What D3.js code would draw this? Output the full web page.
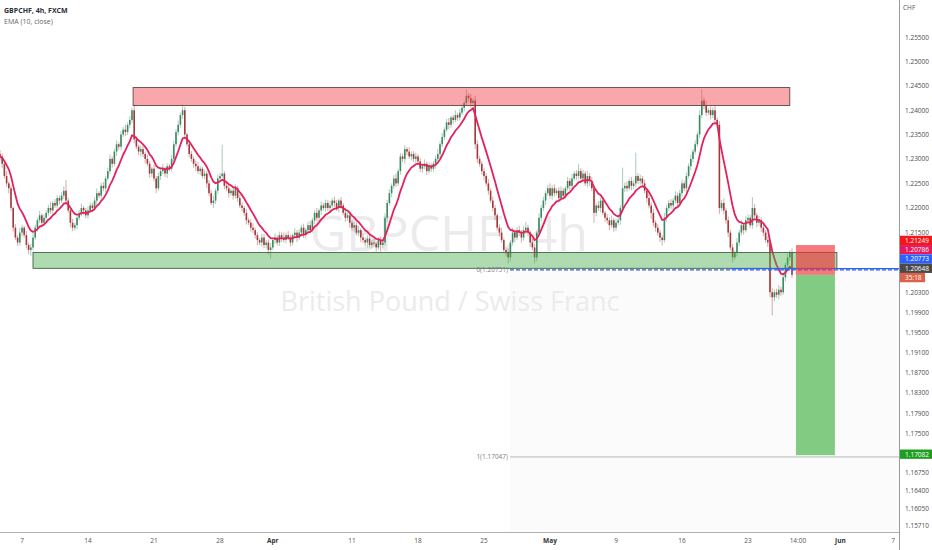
<!DOCTYPE html>
<html><head><meta charset="utf-8">
<script src="https://cdn.jsdelivr.net/npm/d3@7"></script>
<style>
html,body{margin:0;padding:0;background:#fff;}
svg{display:block;font-family:"Open Sans",sans-serif;}
</style></head><body>
<svg id="c" width="932" height="550"></svg>
<script>
// ---------------- DATA ----------------
const symbolTitle = "GBPCHF, 4h, FXCM";
const indicatorTitle = "EMA (10, close)";
const watermarkMain = "GBPCHF, 4h";
const watermarkSub = "British Pound / Swiss Franc";
const currencyLabel = "CHF";
const basePrice = 1.2;      // bar values below are pips above this price
const firstOpen = 310;
const closes = [
305,290,265,250,240,200,160,140,130,150,
160,145,125,115,120,140,160,175,185,170,
180,190,200,195,210,205,220,215,225,235,
215,195,170,160,165,180,190,200,195,185,
195,205,200,215,230,225,245,240,260,275,
300,290,315,330,325,350,360,355,370,380,
400,340,325,315,320,310,300,290,270,280,
260,240,265,275,280,270,285,280,300,330,
355,370,390,400,350,330,310,300,290,285,
275,280,265,270,250,230,210,215,235,260,
265,270,245,240,230,235,225,240,220,205,
200,190,175,170,160,155,145,135,130,140,
125,130,115,120,135,140,130,145,140,135,
145,140,130,145,150,140,150,160,145,155,
165,155,175,190,180,195,205,200,210,200,
205,215,210,200,215,205,190,180,185,170,
160,165,150,155,140,135,130,138,125,130,
128,120,135,125,130,180,210,230,245,260,
250,275,305,300,320,315,305,310,300,305,
295,280,285,290,275,285,280,290,300,310,
330,345,360,375,370,385,380,390,385,395,
405,415,430,425,415,420,330,300,290,275,
265,250,235,215,200,185,160,150,135,115,
110,100,130,150,140,155,150,140,155,160,
150,130,120,100,150,180,200,215,230,240,
225,240,230,235,220,235,225,240,255,245,
260,270,265,275,260,270,250,265,255,240,
190,205,200,215,190,180,175,165,175,160,
170,175,200,240,245,240,255,245,250,265,
255,260,250,235,220,205,190,170,160,150,
140,135,180,200,210,205,215,225,210,230,
250,240,265,285,300,315,330,350,390,420,
410,395,400,390,400,380,370,200,210,195,
175,150,120,100,110,130,150,165,155,175,
180,165,200,185,170,175,160,150,135,130,
30,20,30,25,35,30,60,85,100,110,
65];
const wickUp = [
8,6,5,10,4,6,3,7,5,9, 6,4,8,5,7,10,6,5,9,4, 7,5,6,12,4,8,6,5,7,9, 22,6,4,8,5,7,6,9,4,5,
8,6,5,7,10,4,6,8,5,7, 9,5,6,8,4,7,6,10,5,8, 5,12,6,4,8,7,5,9,6,4, 8,5,7,6,10,4,6,5,8,7,
6,9,5,12,7,4,8,6,5,7, 9,6,4,8,5,7,6,10,5,8, 6,59,5,7,9,4,6,8,5,7, 6,4,8,5,7,9,5,6,4,8,
7,5,6,9,4,8,5,7,6,10, 5,8,6,4,9,5,7,6,8,4, 7,9,5,6,10,4,8,5,7,6, 9,5,8,6,4,7,5,10,6,8,
5,7,6,9,4,8,5,6,7,5, 8,4,6,7,5,9,6,8,5,7, 10,5,7,6,8,4,9,5,6,8, 5,7,6,9,4,8,6,5,7,10,
6,8,5,7,9,4,6,10,5,8, 7,5,13,6,9,5,10,8,6,5, 7,6,9,5,8,6,4,7,10,5, 6,8,5,10,7,6,9,5,8,12,
6,5,8,7,4,9,6,8,5,7, 10,6,8,5,7,9,6,4,8,6, 9,5,7,14,6,8,5,10,6,8, 7,5,9,6,8,4,7,6,10,5,
8,6,5,42,7,9,5,8,6,48, 6,8,5,7,4,9,6,8,5,7, 6,5,10,7,6,8,5,9,6,7, 8,5,7,6,9,5,8,6,10,23,
7,9,5,8,6,10,5,8,6,9, 5,8,6,7,4,9,6,10,5,8, 7,6,22,8,5,9,6,7,5,8, 6,8,5,7,9,6,8,5,7,4,
8];
const wickDn = [
6,9,5,7,10,6,8,5,7,6, 8,5,7,9,12,6,5,8,6,7, 5,8,6,7,9,5,6,8,5,7, 6,5,9,7,6,8,5,7,9,6,
7,5,8,6,9,5,7,6,8,5, 6,8,5,9,6,7,5,8,6,7, 6,8,5,7,10,6,9,5,8,7, 6,10,5,8,6,7,9,5,6,8,
5,7,6,8,9,5,7,6,8,10, 6,8,5,7,9,6,5,10,7,6, 8,5,7,6,9,5,8,6,7,5, 7,6,9,5,8,6,7,10,5,8,
6,7,9,17,5,8,6,7,9,5, 7,5,8,6,7,9,5,8,6,7, 9,6,5,8,7,6,9,5,8,6, 7,5,8,6,9,7,5,8,6,10,
6,8,5,7,9,6,8,10,5,7, 6,8,5,13,7,6,9,5,8,6, 7,5,8,6,10,7,5,8,6,9, 5,7,9,6,8,5,7,6,10,5,
8,6,7,5,9,6,8,5,7,6, 5,8,6,7,9,5,10,8,6,7, 9,6,8,5,7,10,6,8,5,7, 6,12,8,6,9,5,7,10,6,8,
7,9,6,12,8,5,7,6,9,5, 6,8,7,5,9,6,8,7,5,10, 7,5,8,6,9,7,5,8,10,6, 20,7,6,9,5,8,7,10,6,8,
7,5,9,6,8,7,5,9,6,8, 6,8,7,5,9,6,12,7,8,6, 9,11,5,8,6,7,10,6,8,5, 7,6,9,5,8,7,6,5,7,6,
8,7,5,9,6,8,7,12,6,8, 7,9,6,10,5,8,7,6,9,5, 8,6,7,5,9,6,8,7,5,9, 10,36,8,6,9,7,5,8,6,7,
6];
const priceTicks = [1.255,1.25,1.245,1.24,1.235,1.23,1.225,1.22,1.215,1.203,1.199,1.195,1.191,1.187,1.183,1.179,1.175,1.1675,1.164,1.1605,1.1571];
const priceTickLabels = ["1.25500","1.25000","1.24500","1.24000","1.23500","1.23000","1.22500","1.22000","1.21500","1.20300","1.19900","1.19500","1.19100","1.18700","1.18300","1.17900","1.17500","1.16750","1.16400","1.16050","1.15710"];
const dateTickBars = [10,40,70,100,124,160,190,220,250,280,310,340,362.7,382,406];
const dateTickLabels = ["7","14","21","28","Apr","11","18","25","May","9","16","23","14:00","Jun","7"];
const monthLabels = ["Apr","May","Jun"];
const resistanceZone = {lo:1.24098, hi:1.24469, from:60.5, to:359};
const supportZone = {lo:1.2078, hi:1.2110, from:15, to:380.4};
const position = {stop:1.21249, entry:1.20648, target:1.17082, from:361.8, to:379.5};
const fibLevels = [0, 1];
const fibPrices = [1.20751, 1.17047];
const fibFrom = 231.8;
const hLinePrice = 1.20773, hLineFrom = 332;
const axisLabelValues = [1.21249, 1.20786, 1.20773, 1.20648];
const axisLabelTexts = ["1.21249","1.20786","1.20773","1.20648"];
const countdownText = "35:18";
const targetLabel = {value:1.17082, text:"1.17082"};

// ---------------- LAYOUT ----------------
const W = 932, H = 550, plotR = 899, plotB = 532;
const svg = d3.select("#c");
const x = d3.scaleLinear().domain([10, 340]).range([22, 748]);
const y = d3.scaleLog().domain([1.1571, 1.255]).range([526, 38]);
const P = v => basePrice + v / 10000;

const bars = closes.map((c, i) => {
  const o = i ? closes[i - 1] : firstOpen;
  return {i, o: P(o), c: P(c), h: P(Math.max(o, c) + wickUp[i]), l: P(Math.min(o, c) - wickDn[i])};
});
// EMA(10, close)
const k = 2 / 11; let e = bars[0].c;
const ema = bars.map((b, i) => (e = i ? b.c * k + e * (1 - k) : b.c));

svg.append("rect").attr("width", W).attr("height", H).attr("fill", "#fff");
svg.append("defs").append("clipPath").attr("id", "plot").append("rect")
  .attr("x", 0).attr("y", 0).attr("width", plotR).attr("height", plotB);
const g = svg.append("g").attr("clip-path", "url(#plot)");

// fib background
g.append("rect").attr("x", x(fibFrom)).attr("y", y(fibPrices[0]))
  .attr("width", plotR - x(fibFrom)).attr("height", plotB - y(fibPrices[0])).attr("fill", "#fbfbfc");

// watermark
g.append("text").attr("x", 449).attr("y", 251).attr("text-anchor", "middle")
  .attr("font-size", 50).attr("fill", "#ebebed").text(watermarkMain);
g.append("text").attr("x", 450).attr("y", 311).attr("text-anchor", "middle")
  .attr("font-size", 27).attr("fill", "#ebebed").text(watermarkSub);

// candles
const up = "#3a8a62", dn = "#a33a3a";
g.append("g").selectAll("line").data(bars).join("line")
  .attr("x1", d => x(d.i)).attr("x2", d => x(d.i))
  .attr("y1", d => y(d.h)).attr("y2", d => y(d.l))
  .attr("stroke", d => d.c >= d.o ? up : dn).attr("stroke-opacity", 0.55).attr("stroke-width", 0.8);
g.append("g").selectAll("rect").data(bars).join("rect")
  .attr("x", d => x(d.i) - 0.8).attr("width", 1.6)
  .attr("y", d => y(Math.max(d.o, d.c)))
  .attr("height", d => Math.max(0.8, Math.abs(y(d.o) - y(d.c))))
  .attr("fill", d => d.c >= d.o ? up : dn);

// EMA
g.append("path").datum(ema)
  .attr("d", d3.line().x((d, i) => x(i)).y(d => y(d)))
  .attr("fill", "none").attr("stroke", "#e3215f").attr("stroke-width", 1.8);

// zones
function zone(z, fill, stroke) {
  g.append("rect").attr("x", x(z.from)).attr("y", y(z.hi))
    .attr("width", x(z.to) - x(z.from)).attr("height", y(z.lo) - y(z.hi))
    .attr("fill", fill).attr("stroke", stroke).attr("stroke-width", 0.9);
}
zone(resistanceZone, "rgba(242,60,72,0.45)", "#5a4a44");
zone(supportZone, "rgba(76,175,80,0.45)", "#46604a");

// fib lines
fibPrices.forEach((p, j) => {
  g.append("line").attr("x1", x(fibFrom)).attr("x2", plotR).attr("y1", y(p)).attr("y2", y(p))
    .attr("stroke", j === 0 ? "#2f5fd8" : "#b8b8b8").attr("stroke-width", j === 0 ? 1.2 : 1)
    .attr("stroke-dasharray", j === 0 ? "4,2" : null);
  g.append("text").attr("x", x(fibFrom) - 2).attr("y", y(p) + 2.3).attr("text-anchor", "end")
    .attr("font-size", 6.5).attr("fill", "#808080").text(`${fibLevels[j]}(${p.toFixed(5)})`);
});
// horizontal ray
g.append("line").attr("x1", x(hLineFrom)).attr("x2", plotR).attr("y1", y(hLinePrice)).attr("y2", y(hLinePrice))
  .attr("stroke", "#2962ff").attr("stroke-width", 1.3);

// position tool
g.append("rect").attr("x", x(position.from)).attr("y", y(position.stop))
  .attr("width", x(position.to) - x(position.from)).attr("height", y(position.entry) - y(position.stop))
  .attr("fill", "rgba(240,50,55,0.65)");
g.append("rect").attr("x", x(position.from)).attr("y", y(position.entry))
  .attr("width", x(position.to) - x(position.from)).attr("height", y(position.target) - y(position.entry))
  .attr("fill", "#82cb82");

// axes lines
svg.append("line").attr("x1", plotR + 0.5).attr("x2", plotR + 0.5).attr("y1", 0).attr("y2", H).attr("stroke", "#9a9a9a");
svg.append("line").attr("x1", 0).attr("x2", plotR).attr("y1", plotB + 0.5).attr("y2", plotB + 0.5).attr("stroke", "#b0b0b0");

// price ticks
svg.append("g").selectAll("text").data(priceTicks).join("text")
  .attr("x", 905).attr("y", d => y(d) + 2.3).attr("font-size", 6.5)
  .attr("fill", "#4d4d4d")
  .text((d, i) => priceTickLabels[i]);
svg.append("text").attr("x", 903).attr("y", 10).attr("font-size", 6.5).attr("fill", "#555").text(currencyLabel);

// date ticks
svg.append("g").selectAll("text").data(dateTickBars).join("text")
  .attr("x", d => x(d)).attr("y", 543).attr("text-anchor", "middle")
  .attr("font-size", 6.5)
  .attr("font-weight", (d, i) => monthLabels.includes(dateTickLabels[i]) ? 700 : 400)
  .attr("fill", (d, i) => monthLabels.includes(dateTickLabels[i]) ? "#333" : "#555")
  .text((d, i) => dateTickLabels[i]);

// right-side price labels (stacked)
const labelColors = ["#f5161c", "#e6195c", "#2962ff", "#4a4a4a"];
const lh = 9.3;
let items = axisLabelValues.map((v, j) => ({text: axisLabelTexts[j], color: labelColors[j], ideal: y(v), w: 33}));
items.push({text: countdownText, color: "#dd6148", ideal: y(axisLabelValues[3]) + lh, w: 25});
items.sort((a, b) => a.ideal - b.ideal);
items.forEach((it, j) => { it.pos = j ? items[j - 1].pos + lh : it.ideal - lh / 2; });
items.push({text: targetLabel.text, color: "#1e9e1e", pos: y(targetLabel.value) - 1, w: 33});
const lg = svg.append("g").selectAll("g").data(items).join("g");
lg.append("rect").attr("x", plotR + 1).attr("y", d => d.pos - lh / 2).attr("width", d => d.w).attr("height", lh)
  .attr("fill", d => d.color);
lg.append("text").attr("x", 905).attr("y", d => d.pos + 2.4).attr("font-size", 6.5).attr("fill", "#fff").text(d => d.text);

// titles
svg.append("text").attr("x", 4).attr("y", 13).attr("font-size", 7).attr("font-weight", 700).attr("fill", "#2a2e39").text(symbolTitle);
svg.append("text").attr("x", 4).attr("y", 24).attr("font-size", 7).attr("fill", "#666").text(indicatorTitle);
</script>
</body></html>
